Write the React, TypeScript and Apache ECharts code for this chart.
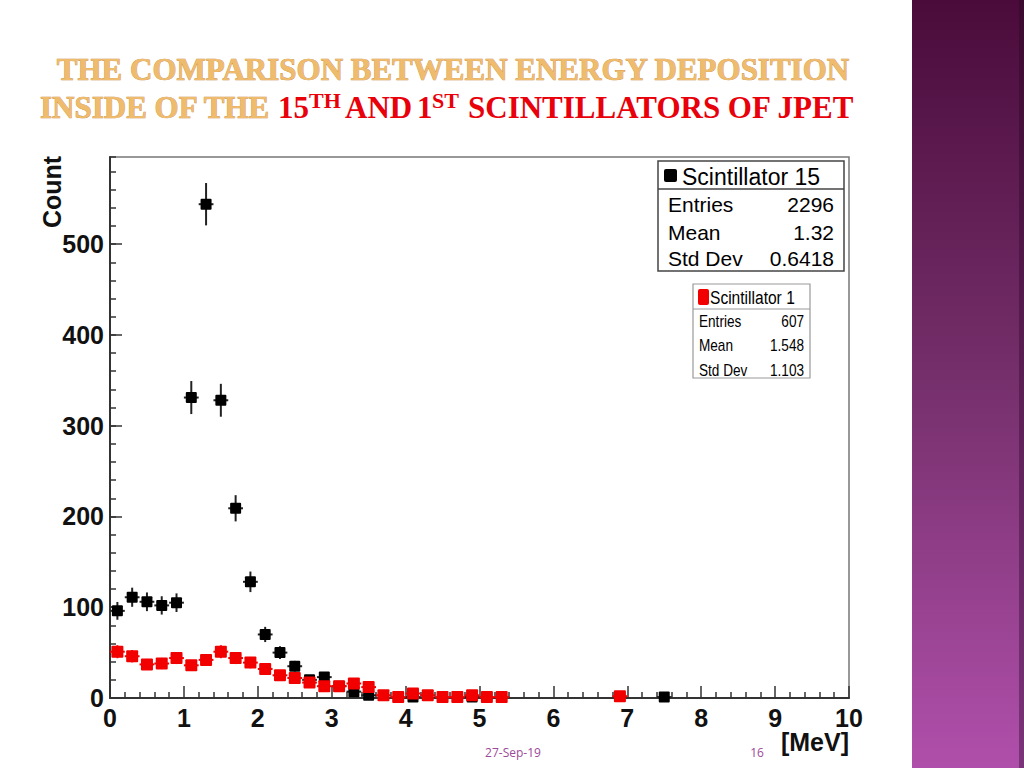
import React, { useEffect, useRef } from "react";
import * as echarts from "echarts";

// Scintillator 15 (black)
const energies15 = [0.1, 0.3, 0.5, 0.7, 0.9, 1.1, 1.3, 1.5, 1.7, 1.9, 2.1, 2.3, 2.5, 2.7, 2.9, 3.1, 3.3, 3.5, 4.1, 4.9, 7.5];
const counts15 = [96, 111, 106, 102, 105, 331, 544, 328, 209, 128, 70, 50, 35, 20, 23, 13, 7, 3, 1, 1, 1];

// Scintillator 1 (red)
const energies1 = [0.1, 0.3, 0.5, 0.7, 0.9, 1.1, 1.3, 1.5, 1.7, 1.9, 2.1, 2.3, 2.5, 2.7, 2.9, 3.1, 3.3, 3.5, 3.7, 3.9, 4.1, 4.3, 4.5, 4.7, 4.9, 5.1, 5.3, 6.9];
const counts1 = [51, 46, 37, 38, 44, 36, 42, 51, 44, 39, 32, 25, 22, 17, 13, 13, 16, 12, 3, 1, 5, 3, 1, 1, 3, 1, 1, 2];

const statLabels = ["Entries", "Mean", "Std Dev"];
const stats15 = ["2296", "1.32", "0.6418"];
const stats1 = ["607", "1.548", "1.103"];

const binHalfWidth = 0.1;

const SANS = "'Liberation Sans', Arial, Helvetica, sans-serif";
const SERIF = "'Liberation Serif', 'Times New Roman', serif";

function makeRender(fill: string, errColor: string, size: number) {
  return (params: any, api: any) => {
    const x = api.value(0);
    const y = api.value(1);
    const e = Math.sqrt(y);
    const c = api.coord([x, y]);
    const l = api.coord([x - binHalfWidth, y]);
    const r = api.coord([x + binHalfWidth, y]);
    const t = api.coord([x, y + e]);
    const b = api.coord([x, Math.max(0, y - e)]);
    return {
      type: "group",
      children: [
        { type: "line", shape: { x1: l[0], y1: c[1], x2: r[0], y2: c[1] }, style: { stroke: errColor, lineWidth: 2 } },
        { type: "line", shape: { x1: c[0], y1: t[1], x2: c[0], y2: b[1] }, style: { stroke: errColor, lineWidth: 2 } },
        { type: "rect", shape: { x: c[0] - size / 2, y: c[1] - size / 2, width: size, height: size, r: 1 }, style: { fill } },
      ],
    };
  };
}

function txt(text: string, x: number, y: number, o: any = {}) {
  const { align = "left", vAlign = "middle", fontSize = 20, fontWeight = "normal", fontFamily = SANS, fill = "#000", scaleX = 1, stroke, lineWidth, z = 100 } = o;
  const style: any = { text, fontSize, fontWeight, fontFamily, fill, align, verticalAlign: vAlign, textAlign: align, textVerticalAlign: vAlign };
  if (stroke) { style.stroke = stroke; style.lineWidth = lineWidth || 1; }
  return { type: "text", x, y, scaleX, z, style };
}

export default function App() {
  const ref = useRef<HTMLDivElement>(null);

  useEffect(() => {
    if (!ref.current) return;
    const chart = echarts.init(ref.current, null, { renderer: "svg" });

    const GOLD = "#efbb6c";
    const GOLD_EDGE = "#c98a3c";
    const purple = new echarts.graphic.LinearGradient(0, 0, 0, 1, [
      { offset: 0, color: "#4a0b3a" },
      { offset: 0.5, color: "#76306c" },
      { offset: 1, color: "#b04fab" },
    ]);
    const purpleEdge = new echarts.graphic.LinearGradient(0, 0, 0, 1, [
      { offset: 0, color: "#3a0a2e" },
      { offset: 1, color: "#7a3478" },
    ]);
    const RED = "#f20000";
    const TRED = "#e8000b";

    const graphic: any[] = [
      { type: "rect", shape: { x: 912, y: 0, width: 112, height: 768 }, style: { fill: purple }, z: 1 },
      { type: "rect", shape: { x: 1019, y: 0, width: 5, height: 768 }, style: { fill: purpleEdge }, z: 2 },
      // title
      txt("THE COMPARISON BETWEEN ENERGY DEPOSITION", 453, 69, { align: "center", fontSize: 31, fontWeight: "bold", fontFamily: SERIF, fill: GOLD, stroke: GOLD_EDGE, lineWidth: 0.7 }),
      txt("INSIDE OF THE", 40, 107, { fontSize: 31, fontWeight: "bold", fontFamily: SERIF, fill: GOLD, stroke: GOLD_EDGE, lineWidth: 0.7 }),
      txt("15", 278, 107, { fontSize: 31, fontWeight: "bold", fontFamily: SERIF, fill: TRED }),
      txt("TH", 309, 100, { fontSize: 22, fontWeight: "bold", fontFamily: SERIF, fill: TRED }),
      txt("AND", 345, 107, { fontSize: 31, fontWeight: "bold", fontFamily: SERIF, fill: TRED }),
      txt("1", 417, 107, { fontSize: 31, fontWeight: "bold", fontFamily: SERIF, fill: TRED }),
      txt("ST", 432, 100, { fontSize: 22, fontWeight: "bold", fontFamily: SERIF, fill: TRED }),
      txt("SCINTILLATORS OF JPET", 468, 107, { fontSize: 31, fontWeight: "bold", fontFamily: SERIF, fill: TRED }),
      // axis titles
      { type: "text", x: 52, y: 192, rotation: Math.PI / 2, z: 100, style: { text: "Count", fontSize: 25, fontWeight: "bold", fontFamily: SANS, fill: "#111", align: "center", verticalAlign: "middle", textAlign: "center", textVerticalAlign: "middle" } },
      txt("[MeV]", 849, 742, { align: "right", fontSize: 25, fontWeight: "bold", fill: "#111" }),
      // footer
      txt("27-Sep-19", 513, 752, { align: "center", fontSize: 12, fontFamily: "'Open Sans', sans-serif", fill: "#9c4a98" }),
      txt("16", 757, 752, { align: "center", fontSize: 12, fontFamily: "'Open Sans', sans-serif", fill: "#9c4a98" }),
      // stats box 1
      { type: "rect", z: 90, shape: { x: 658, y: 161, width: 186, height: 110 }, style: { fill: "#fff", stroke: "#444", lineWidth: 1.5 } },
      { type: "line", z: 91, shape: { x1: 658, y1: 189, x2: 844, y2: 189 }, style: { stroke: "#444", lineWidth: 1.5 } },
      { type: "rect", z: 92, shape: { x: 664, y: 169, width: 13, height: 13, r: 2 }, style: { fill: "#000" } },
      txt("Scintillator 15", 682, 177, { fontSize: 23 }),
      ...statLabels.map((s, i) => txt(s, 668, [204, 232, 258][i], { fontSize: 21 })),
      ...stats15.map((s, i) => txt(s, 834, [204, 232, 258][i], { fontSize: 21, align: "right" })),
      // stats box 2
      { type: "rect", z: 90, shape: { x: 693, y: 284, width: 117, height: 94 }, style: { fill: "#fff", stroke: "#999", lineWidth: 1.2 } },
      { type: "line", z: 91, shape: { x1: 693, y1: 309, x2: 810, y2: 309 }, style: { stroke: "#999", lineWidth: 1.2 } },
      { type: "rect", z: 92, shape: { x: 698, y: 289, width: 11, height: 16, r: 2 }, style: { fill: RED } },
      txt("Scintillator 1", 710, 297, { fontSize: 19, scaleX: 0.82 }),
      ...statLabels.map((s, i) => txt(s, 699, [322, 346, 371][i], { fontSize: 16, scaleX: 0.85 })),
      ...stats1.map((s, i) => txt(s, 804, [322, 346, 371][i], { fontSize: 16, align: "right", scaleX: 0.85 })),
    ];

    const labelStyle = { fontSize: 25, fontWeight: "bold", fontFamily: SANS, color: "#111" };

    chart.setOption({
      animation: false,
      backgroundColor: "#fff",
      grid: { left: 110, right: 175, top: 157, bottom: 70, show: true, borderColor: "#777", borderWidth: 1.5, backgroundColor: "transparent" },
      xAxis: {
        type: "value", min: 0, max: 10, interval: 1,
        axisLine: { show: true, onZero: false, lineStyle: { color: "#333", width: 2 } },
        axisTick: { show: true, inside: true, length: 12, lineStyle: { color: "#333", width: 1.5 } },
        minorTick: { show: true, splitNumber: 5, length: 6, lineStyle: { color: "#333", width: 1.5 } },
        axisLabel: { ...labelStyle, margin: 7 },
        splitLine: { show: false },
      },
      yAxis: [
        {
          type: "value", min: 0, max: 596, interval: 100, position: "left",
          axisLine: { show: true, onZero: false, lineStyle: { color: "#333", width: 2 } },
          axisTick: { show: true, inside: true, length: 12, lineStyle: { color: "#333", width: 1.5 } },
          axisLabel: { ...labelStyle, margin: 6, showMaxLabel: false, formatter: (v: number) => (v % 100 === 0 ? String(v) : "") },
          splitLine: { show: false },
        },
        {
          type: "value", min: 0, max: 596, interval: 20, position: "left",
          axisLine: { show: false },
          axisTick: { show: true, inside: true, length: 6, lineStyle: { color: "#333", width: 1.5 } },
          axisLabel: { show: false },
          splitLine: { show: false },
        },
      ],
      series: [
        {
          type: "custom", name: "Scintillator 15", yAxisIndex: 0,
          renderItem: makeRender("#000", "#222", 11),
          encode: { x: 0, y: 1 },
          data: energies15.map((x, i) => [x, counts15[i]]),
          z: 3,
        },
        {
          type: "custom", name: "Scintillator 1", yAxisIndex: 0,
          renderItem: makeRender(RED, RED, 12),
          encode: { x: 0, y: 1 },
          data: energies1.map((x, i) => [x, counts1[i]]),
          z: 4,
        },
      ],
      graphic,
    });

    return () => chart.dispose();
  }, []);

  return <div ref={ref} style={{ position: "fixed", left: 0, top: 0, width: 1024, height: 768, background: "#fff" }} />;
}
